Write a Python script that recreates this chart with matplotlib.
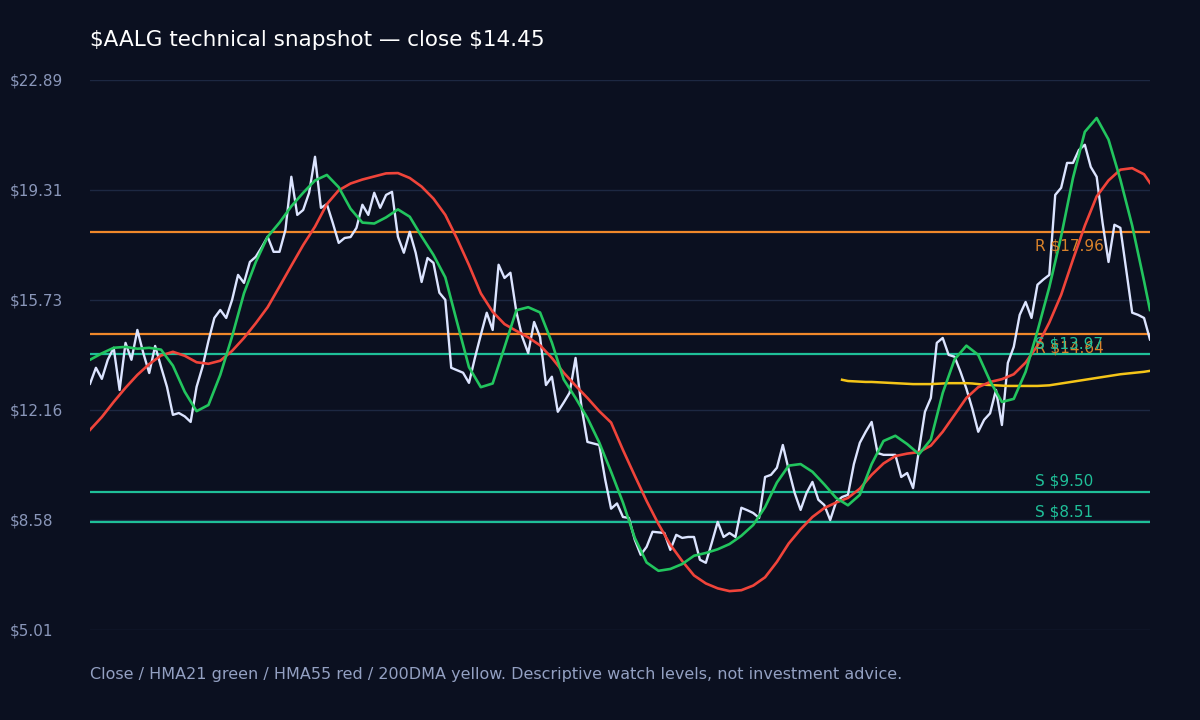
import numpy as np
import matplotlib
matplotlib.use("Agg")
import matplotlib.pyplot as plt

# daily closes (last 180 sessions shown)
close = [
    13.01, 13.53, 13.17, 13.79, 14.18, 12.81, 14.34, 13.79, 14.76, 14.01,
    13.36, 14.24, 13.56, 12.91, 12.00, 12.06, 11.95, 11.77, 12.91, 13.56,
    14.40, 15.15, 15.41, 15.15, 15.74, 16.55, 16.29, 16.97, 17.14, 17.45,
    17.79, 17.30, 17.30, 18.01, 19.74, 18.50, 18.66, 19.22, 20.39, 18.73,
    18.85, 18.24, 17.59, 17.75, 17.78, 18.08, 18.83, 18.50, 19.22, 18.73,
    19.15, 19.25, 17.79, 17.27, 17.95, 17.27, 16.32, 17.10, 16.94, 15.97,
    15.74, 13.53, 13.45, 13.37, 13.04, 13.85, 14.60, 15.32, 14.76, 16.88,
    16.45, 16.62, 15.35, 14.53, 14.01, 15.02, 14.53, 12.97, 13.24, 12.10,
    12.40, 12.72, 13.85, 12.26, 11.12, 11.07, 11.02, 9.90, 8.95, 9.12,
    8.68, 8.65, 7.94, 7.45, 7.71, 8.20, 8.18, 8.16, 7.61, 8.10,
    8.00, 8.03, 8.03, 7.29, 7.19, 7.84, 8.52, 8.03, 8.16, 8.03,
    8.98, 8.90, 8.81, 8.65, 9.98, 10.05, 10.28, 11.02, 10.21, 9.46,
    8.91, 9.46, 9.82, 9.24, 9.07, 8.58, 9.17, 9.33, 9.40, 10.40,
    11.09, 11.45, 11.77, 10.76, 10.70, 10.70, 10.70, 9.98, 10.11, 9.62,
    10.86, 12.10, 12.55, 14.34, 14.50, 13.95, 13.89, 13.40, 12.85, 12.20,
    11.45, 11.84, 12.05, 12.81, 11.67, 13.69, 14.21, 15.25, 15.67, 15.15,
    16.23, 16.40, 16.55, 19.15, 19.38, 20.19, 20.19, 20.61, 20.78, 20.06,
    19.74, 18.24, 16.97, 18.18, 18.08, 16.70, 15.32, 15.25, 15.15, 14.45,
]

# HMA21 / HMA55 read every second session plus the last one
hma21 = [
    13.79, 14.00, 14.18, 14.21, 14.15, 14.18, 14.12, 13.60, 12.75, 12.12,
    12.32, 13.30, 14.55, 15.95, 16.97, 17.79, 18.25, 18.78, 19.22, 19.62,
    19.80, 19.40, 18.70, 18.25, 18.22, 18.42, 18.68, 18.44, 17.80, 17.20,
    16.47, 15.00, 13.55, 12.90, 13.02, 14.20, 15.40, 15.50, 15.33, 14.35,
    13.15, 12.55, 11.90, 11.10, 10.15, 9.15, 8.00, 7.20, 6.93, 6.99,
    7.15, 7.42, 7.51, 7.63, 7.80, 8.07, 8.42, 9.00, 9.80, 10.35,
    10.40, 10.15, 9.74, 9.30, 9.06, 9.40, 10.40, 11.15, 11.32, 11.05,
    10.72, 11.20, 12.71, 13.80, 14.25, 13.95, 13.10, 12.42, 12.52, 13.40,
    14.72, 16.15, 17.80, 19.70, 21.20, 21.65, 20.95, 19.65, 18.15, 16.35,
    15.41,
]
hma55 = [
    11.51, 11.93, 12.42, 12.88, 13.30, 13.65, 13.93, 14.05, 13.92, 13.71,
    13.66, 13.76, 14.08, 14.50, 14.98, 15.50, 16.17, 16.85, 17.52, 18.12,
    18.85, 19.30, 19.52, 19.65, 19.75, 19.85, 19.86, 19.70, 19.42, 19.03,
    18.50, 17.72, 16.87, 15.95, 15.35, 14.95, 14.73, 14.52, 14.26, 13.85,
    13.37, 12.95, 12.55, 12.12, 11.75, 10.86, 10.02, 9.20, 8.45, 7.78,
    7.25, 6.78, 6.52, 6.36, 6.27, 6.30, 6.45, 6.72, 7.22, 7.82,
    8.28, 8.68, 8.97, 9.15, 9.30, 9.60, 10.05, 10.42, 10.66, 10.74,
    10.79, 11.00, 11.45, 12.00, 12.55, 12.90, 13.07, 13.16, 13.32, 13.70,
    14.25, 15.00, 15.90, 17.05, 18.15, 19.10, 19.62, 19.97, 20.02, 19.82,
    19.54,
]

# 200DMA only exists for the last 53 sessions of the window
dma200 = [
    13.14, 13.10, 13.09, 13.08, 13.07, 13.07, 13.06, 13.05, 13.04, 13.03,
    13.02, 13.01, 13.00, 13.00, 13.00, 13.00, 13.01, 13.02, 13.03, 13.03,
    13.03, 13.03, 13.02, 13.00, 12.98, 12.97, 12.96, 12.95, 12.94, 12.94,
    12.94, 12.94, 12.94, 12.94, 12.95, 12.96, 12.99, 13.02, 13.05, 13.08,
    13.11, 13.14, 13.17, 13.20, 13.23, 13.26, 13.29, 13.32, 13.34, 13.36,
    13.38, 13.40, 13.43,
]

levels = [17.96, 14.64, 13.97, 9.50, 8.51]
level_kinds = ["R", "R", "S", "S", "S"]

BG = "#0b1020"
ORANGE = "#f0882a"
TEAL = "#1fbf98"

n = len(close)
x = np.arange(n)
hma_x = list(range(0, n, 2)) + [n - 1]
dma_x = np.arange(n - len(dma200), n)

fig = plt.figure(figsize=(12, 7.2), dpi=100, facecolor=BG)
ax = fig.add_axes([0.075, 0.125, 0.8833, 0.7639])
ax.set_facecolor(BG)

lo, hi = 5.006, 22.886
ticks = np.linspace(lo, hi, 6)
ax.set_ylim(lo, hi)
ax.set_xlim(0, n - 1)
ax.set_yticks(ticks)
ax.set_yticklabels([f"${t:.2f}" for t in ticks])
ax.set_xticks([])
ax.tick_params(axis="y", length=0, pad=57.6, labelsize=11, labelcolor="#8a97ba")
for lab in ax.get_yticklabels():
    lab.set_ha("left")
ax.grid(axis="y", color="#1d2842", linewidth=1)
for s in ax.spines.values():
    s.set_visible(False)

for lv, kind in zip(levels, level_kinds):
    col = ORANGE if kind == "R" else TEAL
    ax.axhline(lv, color=col, linewidth=1.6, zorder=2)

ax.plot(x, close, color="#dce4ff", linewidth=1.7, zorder=3)
ax.plot(dma_x, dma200, color="#f5c518", linewidth=1.8, zorder=4)
ax.plot(hma_x, hma55, color="#f0443a", linewidth=1.9, zorder=4)
ax.plot(hma_x, hma21, color="#22c55e", linewidth=1.9, zorder=5)

for lv, kind in zip(levels, level_kinds):
    if kind == "R":
        ax.annotate(f"R ${lv:.2f}", (n - 20, lv), xytext=(-1.5, -5), textcoords="offset points",
                    va="top", ha="left", color="#d9822b", fontsize=11, zorder=6)
    else:
        ax.annotate(f"S ${lv:.2f}", (n - 20, lv), xytext=(-1.5, 2), textcoords="offset points",
                    va="bottom", ha="left", color=TEAL, fontsize=11, zorder=6)

fig.text(0.075, 0.945, f"$AALG technical snapshot \u2014 close ${close[-1]:.2f}",
         color="white", fontsize=15.5, va="center", ha="left", parse_math=False)
fig.text(0.075, 0.0625,
         "Close / HMA21 green / HMA55 red / 200DMA yellow. Descriptive watch levels, not investment advice.",
         color="#93a0c2", fontsize=11.5, va="center", ha="left")

fig.savefig("out.png", dpi=100, facecolor=BG)
